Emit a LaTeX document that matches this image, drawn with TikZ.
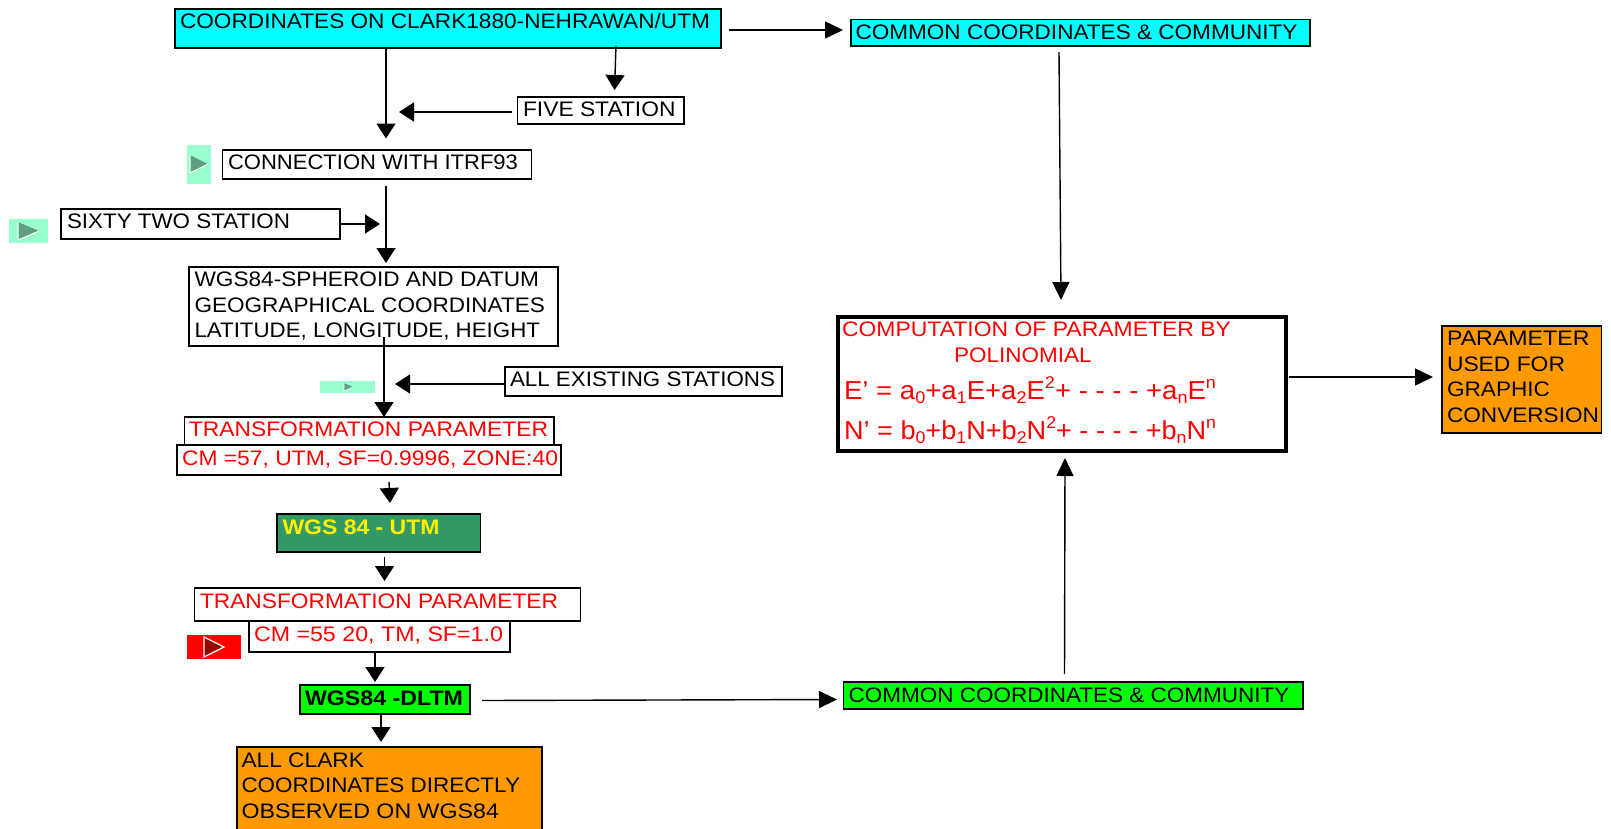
\documentclass[tikz,border=0pt]{standalone}
\usepackage{graphicx}
\usepackage{fontspec}
\setmainfont{Liberation Sans}
\usetikzlibrary{arrows.meta,calc}
\definecolor{cyanbox}{HTML}{00FFFF}
\definecolor{seagreen}{HTML}{339966}
\definecolor{limebox}{HTML}{00FF00}
\definecolor{orangebox}{HTML}{FF9900}
\definecolor{mintblock}{HTML}{99FFCC}
\definecolor{tridark}{HTML}{5F9E80}
\definecolor{reddark}{HTML}{990000}
\newsavebox\fitbox
\newcommand\fitw[2]{\sbox\fitbox{#2}\pgfmathsetmacro\fitr{#1/\wd\fitbox}\scalebox{\fitr}[1]{\usebox\fitbox}}
\newcommand\bx[6]{\pgfmathsetmacro\bw{#4-#2}\pgfmathsetmacro\bh{#5-#3}\node[bxs,#6,minimum width=\bw pt,minimum height=\bh pt] (#1) at ({(#2+#4)/2},{(#3+#5)/2}) {};}
\newcommand\lab[6]{\pgfmathsetmacro\lw{#3-#2}\node[labs,#5] (#1) at (#2,#4) {\fitw{\lw}{#6}};}
\newcommand\subx[1]{\raisebox{-4pt}{\fontsize{17}{17}\selectfont #1}}
\newcommand\supx[1]{\raisebox{11pt}{\fontsize{17}{17}\selectfont #1}}
\tikzset{
 bxs/.style={draw=black,line width=1.3pt,fill=white,inner sep=0pt,outer sep=0pt},
 labs/.style={anchor=base west,inner sep=0pt,outer sep=0pt,font=\fontsize{21}{25}\selectfont,text=black},
 redt/.style={text=red},
 arr/.style={draw=black,line width=1.4pt,-{Triangle[width=19pt,length=15pt]}},
 arrw/.style={draw=black,line width=1.4pt,-{Triangle[width=17pt,length=18pt]}},
}
\begin{document}
\begin{tikzpicture}[x=1pt,y=-1pt]
\useasboundingbox (0,0) rectangle (1611,828);
% blocks
\fill[mintblock] (187,145) rectangle (211,184);
\fill[tridark] (190,155) -- (208,164) -- (190,173) -- cycle;
\draw[white,line width=1pt] (208,164) -- (190,173) -- (190,155);
\fill[mintblock] (9,219) rectangle (48,243);
\fill[tridark] (18,222) -- (39,231) -- (18,240) -- cycle;
\draw[white,line width=1pt] (39,231) -- (18,240) -- (18,222);
\fill[mintblock] (320,381) rectangle (375,393);
\fill[tridark] (344,383) -- (353,387) -- (344,391) -- cycle;
\draw[white,line width=.6pt] (353,387) -- (344,391) -- (344,383);
\fill[red] (187,635) rectangle (241,659);
\fill[reddark] (204,637) -- (224,647) -- (204,657) -- cycle;
\draw[white,line width=1.2pt] (204,637) -- (224,647) -- (204,657) -- cycle;
% boxes
\bx{clark}{175}{9}{721}{48}{fill=cyanbox}
\bx{common}{851}{19.5}{1310}{46}{fill=cyanbox}
\bx{five}{517.5}{97}{684}{124}{}
\bx{itrf}{222.5}{150}{531.5}{179}{}
\bx{sixty}{61}{209}{340}{239}{}
\bx{wgs}{189}{267}{558}{346}{}
\bx{allex}{505}{367}{782}{396}{}
\bx{tpa}{184.5}{417}{554}{445}{}
\bx{cma}{177}{445}{561}{475}{}
\bx{utm}{277}{514}{480.5}{552}{fill=seagreen}
\bx{tpb}{194.5}{588}{580.5}{621}{}
\bx{cmb}{249}{621}{510}{652}{}
\bx{dltm}{300}{685}{470}{714}{fill=limebox}
\bx{clarkobs}{237}{747}{542}{840}{fill=orangebox}
\bx{commonb}{843.5}{682}{1303}{709}{fill=limebox}
\bx{comp}{838}{317}{1286}{451}{line width=4pt}
\bx{param}{1442}{326}{1601.5}{433}{fill=orangebox}
% connector free ends
\coordinate (e1s) at (729,30);
\coordinate (e1e) at (843,30);
\coordinate (e2) at (386,138.5);
\coordinate (e3s) at (616,46);
\coordinate (e3e) at (614.5,90);
\coordinate (e4) at (399,112);
\coordinate (e5s) at (386,186);
\coordinate (e5e) at (386,263);
\coordinate (e6) at (380,224);
\coordinate (e7s) at (384,337);
\coordinate (e7e) at (384,417);
\coordinate (e8) at (395,384);
\coordinate (e9s) at (389,482);
\coordinate (e9e) at (390,503);
\coordinate (e10s) at (384.5,557);
\coordinate (e10e) at (384.5,581);
\coordinate (e11) at (375,682);
\coordinate (e12) at (381,742);
\coordinate (e13s) at (482,700.5);
\coordinate (e13e) at (837,699.5);
\coordinate (e14s) at (1064.5,674);
\coordinate (e14e) at (1065,458);
\coordinate (e15s) at (1059,52);
\coordinate (e15e) at (1061,300);
\coordinate (e16s) at (1289,377);
\coordinate (e16e) at (1433,377);
% connectors
\draw[arrw] (e1s) -- (e1e);
\draw[arr] (clark.south -| e2) -- (e2);
\draw[arr] (e3s) -- (e3e);
\draw[arr] (five.west |- e4) ++(-6,0) -- (e4);
\draw[arr] (e5s) -- (e5e);
\draw[arr] (sixty.east |- e6) -- (e6);
\draw[arr] (e7s) -- (e7e);
\draw[arr] (allex.west |- e8) -- (e8);
\draw[arr] (e9s) -- (e9e);
\draw[arr] (e10s) -- (e10e);
\draw[arr] (cmb.south -| e11) -- (e11);
\draw[arr] (dltm.south -| e12) -- (e12);
\draw[arrw] (e13s) -- (e13e);
\draw[arrw] (e14s) -- (e14e);
\draw[arrw] (e15s) -- (e15e);
\draw[arrw] (e16s) -- (e16e);
% labels
\lab{tclark}{180}{710}{28.5}{}{COORDINATES ON CLARK1880-NEHRAWAN/UTM}
\lab{tcommon}{855.5}{1297.5}{39}{}{COMMON COORDINATES \& COMMUNITY}
\lab{tfive}{523}{675.5}{116}{}{FIVE STATION}
\lab{titrf}{228}{518}{169}{}{CONNECTION WITH ITRF93}
\lab{tsixty}{67}{290}{228}{}{SIXTY TWO STATION}
\lab{twa}{194.5}{539}{286}{}{WGS84-SPHEROID AND DATUM}
\lab{twb}{194.5}{545}{312}{}{GEOGRAPHICAL COORDINATES}
\lab{twc}{194.5}{540}{337}{}{LATITUDE, LONGITUDE, HEIGHT}
\lab{tall}{510}{775}{386}{}{ALL EXISTING STATIONS}
\lab{ttpa}{189}{548}{436}{redt}{TRANSFORMATION PARAMETER}
\lab{tcma}{182}{558}{465}{redt}{CM =57, UTM, SF=0.9996, ZONE:40}
\lab{tutm}{282.5}{439.5}{534}{text=yellow,font=\fontsize{21}{25}\selectfont\bfseries}{WGS 84 - UTM}
\lab{ttpb}{200}{558}{608}{redt}{TRANSFORMATION PARAMETER}
\lab{tcmb}{254}{503}{641}{redt}{CM =55 20, TM, SF=1.0}
\lab{tdltm}{305}{463}{705}{font=\fontsize{21}{25}\selectfont\bfseries}{WGS84 -DLTM}
\lab{tca}{241.5}{364}{767}{}{ALL CLARK}
\lab{tcb}{241.5}{520}{792}{}{COORDINATES DIRECTLY}
\lab{tcc}{241.5}{499}{818}{}{OBSERVED ON WGS84}
\lab{tcommonb}{848.5}{1289.5}{702}{}{COMMON COORDINATES \& COMMUNITY}
\lab{tcompa}{842}{1231}{336}{redt}{COMPUTATION OF PARAMETER BY}
\lab{tcompb}{954}{1091.5}{362}{redt}{POLINOMIAL}
\lab{teqa}{844}{1216}{399}{redt,font=\fontsize{26}{30}\selectfont}{E' = a\subx{0}+a\subx{1}E+a\subx{2}E\supx{2}+ - - - - +a\subx{n}E\supx{n}}
\lab{teqb}{844}{1216}{439}{redt,font=\fontsize{26}{30}\selectfont}{N' = b\subx{0}+b\subx{1}N+b\subx{2}N\supx{2}+ - - - - +b\subx{n}N\supx{n}}
\lab{tpa2}{1447}{1589.5}{345}{}{PARAMETER}
\lab{tpb2}{1447}{1565}{371}{}{USED FOR}
\lab{tpc2}{1447}{1550}{396.5}{}{GRAPHIC}
\lab{tpd2}{1447}{1599}{422}{}{CONVERSION}
\end{tikzpicture}
\end{document}
